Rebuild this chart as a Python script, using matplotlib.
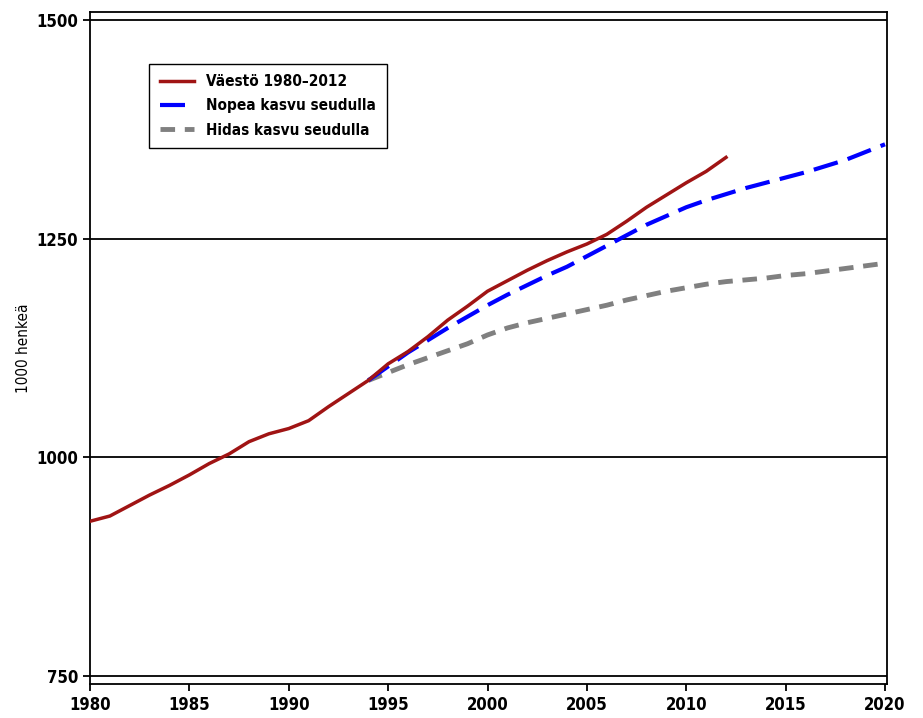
import matplotlib
matplotlib.use('Agg')
from matplotlib import pyplot as plt

plt.rcParams['font.family'] = ['DejaVu Sans']
plt.rcParams['font.stretch'] = 'condensed'
plt.rcParams['font.weight'] = 'bold'

years_obs = list(range(1980, 2013))
pop_obs = [927, 933, 945, 957, 968, 980, 993, 1004, 1018, 1027, 1033, 1042, 1058, 1073,
           1088, 1107, 1121, 1138, 1157, 1173, 1190, 1202, 1214, 1225, 1235, 1244, 1255,
           1270, 1286, 1300, 1314, 1327, 1343]

years_proj = list(range(1994, 2021))
fast = [1088, 1104, 1120, 1134, 1148, 1161, 1174, 1186, 1197, 1208, 1218, 1230, 1242,
        1254, 1266, 1276, 1286, 1294, 1301, 1308, 1314, 1320, 1326, 1333, 1340, 1349, 1358]
slow = [1088, 1097, 1106, 1114, 1122, 1130, 1140, 1148, 1154, 1159, 1164, 1169, 1174,
        1180, 1185, 1190, 1194, 1198, 1201, 1203, 1205, 1208, 1210, 1213, 1216, 1219, 1222]

fig = plt.figure(figsize=(9.23, 7.18), dpi=100)
ax = fig.add_axes([0.0975, 0.0474, 0.8635, 0.9356])

for y in [750, 1000, 1250, 1500]:
    ax.axhline(y, color='black', lw=1.3, zorder=1)

ax.plot(years_proj, slow, color='#808080', lw=3.5, ls=(0, (3, 2)), label='Hidas kasvu seudulla', zorder=2)
ax.plot(years_proj, fast, color='#0000ff', lw=3, ls=(0, (6, 2.5)), label='Nopea kasvu seudulla', zorder=3)
ax.plot(years_obs, pop_obs, color='#a01414', lw=2.5, label='Väestö 1980–2012', zorder=4)

ax.set_xlim(1980, 2020.1)
ax.set_ylim(741, 1509)
ax.set_xticks(range(1980, 2021, 5))
ax.set_yticks([750, 1000, 1250, 1500])
ax.tick_params(labelsize=12, width=1.3, length=5)
for s in ax.spines.values():
    s.set_linewidth(1.3)
ax.set_ylabel('1000 henkeä', fontsize=11, fontweight='normal')

h, l = ax.get_legend_handles_labels()
ax.legend(h[::-1], l[::-1], loc='upper left', bbox_to_anchor=(0.065, 0.935), fancybox=False,
          edgecolor='black', fontsize=11, handlelength=2.2, labelspacing=0.6,
          borderpad=0.7, framealpha=1)

fig.savefig('out.png', dpi=100)
